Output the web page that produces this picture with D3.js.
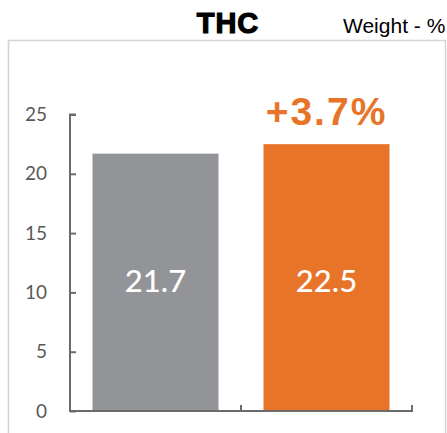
<!DOCTYPE html>
<html>
<head>
<meta charset="utf-8">
<script src="https://cdn.jsdelivr.net/npm/d3@7"></script>
<style>
  body { margin: 0; background: white; }
  svg { display: block; }
</style>
</head>
<body>
<div id="chart"></div>
<script>
// Chart values.
const categories = ["Before", "After"];
const values = [21.7, 22.5];
const barColors = ["#939498", "#e77428"];
const yTicks = [0, 5, 10, 15, 20, 25];
const changeLabel = "+3.7%";
const title = "THC";
const unitLabel = "Weight - %";

const width = 447, height = 433;

let svg = d3.select("#chart")
  .append("svg")
    .attr("width", width)
    .attr("height", height);

// Frame round the plot.
svg.append("rect")
  .attr("x", 8.5)
  .attr("y", 40.5)
  .attr("width", 437)
  .attr("height", 420)
  .attr("fill", "none")
  .attr("stroke", "#d4d4d4")
  .attr("stroke-width", 1.5);

// Titles.
svg.append("text")
  .attr("x", 228)
  .attr("y", 33)
  .attr("text-anchor", "middle")
  .attr("font-family", "Liberation Sans, Arial, sans-serif")
  .attr("font-weight", 900)
  .attr("font-size", 29)
  .attr("letter-spacing", 1)
  .attr("stroke", "black")
  .attr("stroke-width", 1.2)
  .attr("fill", "black")
  .text(title);

svg.append("text")
  .attr("x", 343)
  .attr("y", 33)
  .attr("font-family", "Liberation Sans, Arial, sans-serif")
  .attr("font-size", 21)
  .attr("fill", "black")
  .text(unitLabel);

// Scales.
let x = d3.scaleBand()
  .domain(categories)
  .range([70, 412])
  .paddingInner(0)
  .paddingOuter(0);

let y = d3.scaleLinear()
  .domain([0, 25])
  .range([411, 114.5]);

const barWidth = 126;

// Bars.
svg.append("g")
  .selectAll("rect")
  .data(values)
  .join("rect")
    .attr("x", (d,i)=>x(categories[i]) + x.bandwidth()/2 - barWidth/2)
    .attr("y", d=>y(d))
    .attr("width", barWidth)
    .attr("height", d=>y(0) - y(d))
    .attr("fill", (d,i)=>barColors[i]);

// Value labels inside the bars.
svg.append("g")
  .selectAll("text")
  .data(values)
  .join("text")
    .attr("x", (d,i)=>x(categories[i]) + x.bandwidth()/2)
    .attr("y", 292)
    .attr("text-anchor", "middle")
    .attr("font-family", "Lato, Open Sans, sans-serif")
    .attr("font-size", 31)
    .attr("font-weight", 500)
    .attr("fill", "white")
    .text(d=>d.toFixed(1));

// Change label above the second bar.
svg.append("text")
  .attr("x", x(categories[1]) + x.bandwidth()/2)
  .attr("y", 125)
  .attr("text-anchor", "middle")
  .attr("font-family", "Liberation Sans, Arial, sans-serif")
  .attr("font-weight", "bold")
  .attr("font-size", 39)
  .attr("letter-spacing", 2)
  .attr("fill", "#e77428")
  .text(changeLabel);

// Y axis.
let yAxis = svg.append("g")
  .attr("transform", "translate(70,0)")
  .call(d3.axisRight(y).tickValues(yTicks).tickSize(6).tickFormat(""));
yAxis.select(".domain").attr("d", `M6,${y(25)}H0V${y(0)}`);
yAxis.selectAll("path, line").attr("stroke", "#6b6b6b").attr("stroke-width", 2);

svg.append("g")
  .selectAll("text")
  .data(yTicks)
  .join("text")
    .attr("x", 47)
    .attr("y", d=>y(d) + 6.5)
    .attr("text-anchor", "end")
    .attr("font-family", "Lato, Open Sans, sans-serif")
    .attr("font-size", 19)
    .attr("fill", "#595959")
    .text(d=>d);

// X axis with upward ticks at the category boundaries.
let xAxis = svg.append("g")
  .attr("transform", `translate(0,${y(0)})`);
xAxis.append("line")
  .attr("x1", 69).attr("x2", 413)
  .attr("stroke", "#6b6b6b").attr("stroke-width", 2);
xAxis.selectAll("line.tick")
  .data(categories)
  .join("line")
    .attr("class", "tick")
    .attr("x1", d=>x(d) + x.bandwidth())
    .attr("x2", d=>x(d) + x.bandwidth())
    .attr("y1", 0).attr("y2", -6)
    .attr("stroke", "#6b6b6b").attr("stroke-width", 2);
</script>
</body>
</html>
